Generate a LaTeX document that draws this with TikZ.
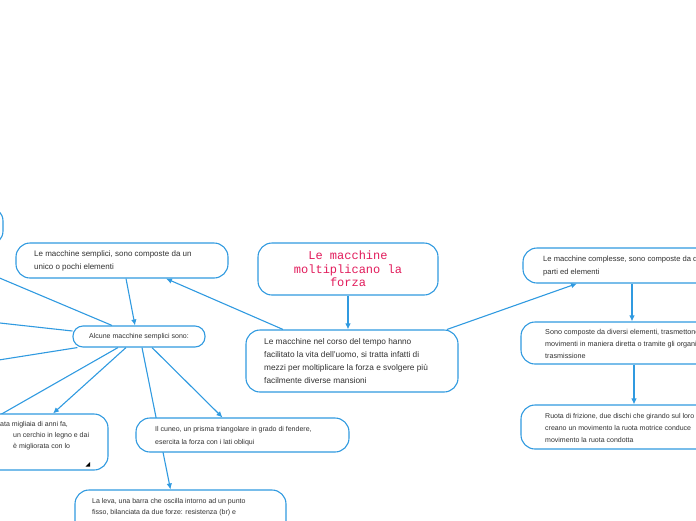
\documentclass[tikz,border=0pt]{standalone}
\usepackage{fontspec}
\setmainfont{Liberation Sans}
\newfontfamily\titlefont{Liberation Mono}
\usetikzlibrary{arrows.meta,calc,backgrounds}
\definecolor{mmblue}{RGB}{48,154,224}
\definecolor{mmtext}{RGB}{50,50,50}
\definecolor{mmtitle}{RGB}{226,28,92}
\begin{document}
\begin{tikzpicture}[x=1pt,y=-1pt,
  box/.style={draw=mmblue, line width=1.1pt, rounded corners=14pt, fill=white, inner sep=0pt},
  txt/.style={anchor=west, align=left, text=mmtext, inner sep=0pt},
  conn/.style={draw=mmblue, line width=1.1pt},
  arr/.style={conn, -{Latex[length=6pt,width=5.5pt]}}]
\useasboundingbox (0,0) rectangle (696,520);

% boxes and texts
\node[box, minimum width=212pt, minimum height=38pt] (tl) at (-103,226) {};
\node[box, minimum width=180pt, minimum height=52pt, font=\titlefont\fontsize{12}{13.5}\selectfont, text=mmtitle, align=center] (title) at (348,269) {Le macchine\\moltiplicano la\\forza};
\node[box, minimum width=212pt, minimum height=62pt] (main) at (352,361) {};
\node[txt, font=\fontsize{8.3}{13.3}\selectfont] (mainT) at (264,361) {Le macchine nel corso del tempo hanno\\facilitato la vita dell'uomo, si tratta infatti di\\mezzi per moltiplicare la forza e svolgere più\\facilmente diverse mansioni};
\node[box, minimum width=212pt, minimum height=35pt] (sem) at (122,260.5) {};
\node[txt, font=\fontsize{8}{13}\selectfont] (semT) at (34,261) {Le macchine semplici, sono composte da un\\unico o pochi elementi};
\node[box, rounded corners=10pt, minimum width=132pt, minimum height=21pt, font=\fontsize{7}{9}\selectfont, text=mmtext] (alc) at (139,336.5) {Alcune macchine semplici sono:};
\node[box, minimum width=212pt, minimum height=56pt] (bl) at (2,442) {};
\node[txt, font=\fontsize{7}{11}\selectfont] (blT) at (0,436) {ata migliaia di anni fa,\\\hspace*{13pt}un cerchio in legno e dai\\\hspace*{13pt}è migliorata con lo};
\fill (90,462) -- (90,466.5) -- (85.5,466.5) -- cycle;
\node[box, minimum width=213pt, minimum height=34pt] (cun) at (242.5,435) {};
\node[txt, font=\fontsize{7}{12.7}\selectfont] (cunT) at (155,436) {Il cuneo, un prisma triangolare in grado di fendere,\\esercita la forza con i lati obliqui};
\node[box, minimum width=211pt, minimum height=60pt] (lev) at (180.5,520) {};
\node[txt, font=\fontsize{7}{11.5}\selectfont] (levT) at (92,507) {La leva, una barra che oscilla intorno ad un punto\\fisso, bilanciata da due forze: resistenza (br) e};
\node[box, minimum width=212pt, minimum height=35pt] (com) at (629,265.5) {};
\node[txt, font=\fontsize{7.6}{13}\selectfont] (comT) at (543,266) {Le macchine complesse, sono composte da diverse\\parti ed elementi};
\node[box, minimum width=212pt, minimum height=42pt] (sono) at (627,343) {};
\node[txt, font=\fontsize{7.2}{12}\selectfont] (sonoT) at (545,344) {Sono composte da diversi elementi, trasmettono\\movimenti in maniera diretta o tramite gli organi\\trasmissione};
\node[box, minimum width=212pt, minimum height=44pt] (ruo) at (627,427) {};
\node[txt, font=\fontsize{7}{12}\selectfont] (ruoT) at (545,428) {Ruota di frizione, due dischi che girando sul loro\\creano un movimento la ruota motrice conduce\\movimento la ruota condotta};

% off-picture ends
\coordinate (offA) at (-100,236);
\coordinate (offB) at (-100,312);
\coordinate (offC) at (-100,375.6);
\coordinate (offD) at (-100,472);

\begin{scope}[on background layer]
\draw[arr] (title.south) -- (title.south |- main.north);
\draw[arr] ($(main.north)+(-69,0)$) -- ($(sem.south)+(44,0)$);
\draw[arr] ($(main.north)+(95,0)$) -- ($(com.south)+(-52,0)$);
\draw[arr] ($(sem.south)+(4,0)$) -- ($(alc.north)+(-4,0)$);
\draw[conn] ($(alc.north)+(-27,0)$) -- (offA);
\draw[conn] ($(alc.west)+(0,-5.5)$) -- (offB);
\draw[conn] ($(alc.south west)+(5,0)$) -- (offC);
\draw[conn] ($(alc.south)+(-21,0)$) -- (offD);
\draw[arr] ($(alc.south)+(-13,0)$) -- ($(bl.north)+(51,0)$);
\draw[arr] ($(alc.south)+(3,0)$) -- ($(lev.north)+(-10,0)$);
\draw[arr] ($(alc.south)+(13,0)$) -- ($(cun.north)+(-20,0)$);
\draw[arr] ($(com.south)+(3,0)$) -- ($(sono.north)+(5,0)$);
\draw[arr] ($(sono.south)+(7,0)$) -- ($(ruo.north)+(7,0)$);
\end{scope}
\end{tikzpicture}
\end{document}
